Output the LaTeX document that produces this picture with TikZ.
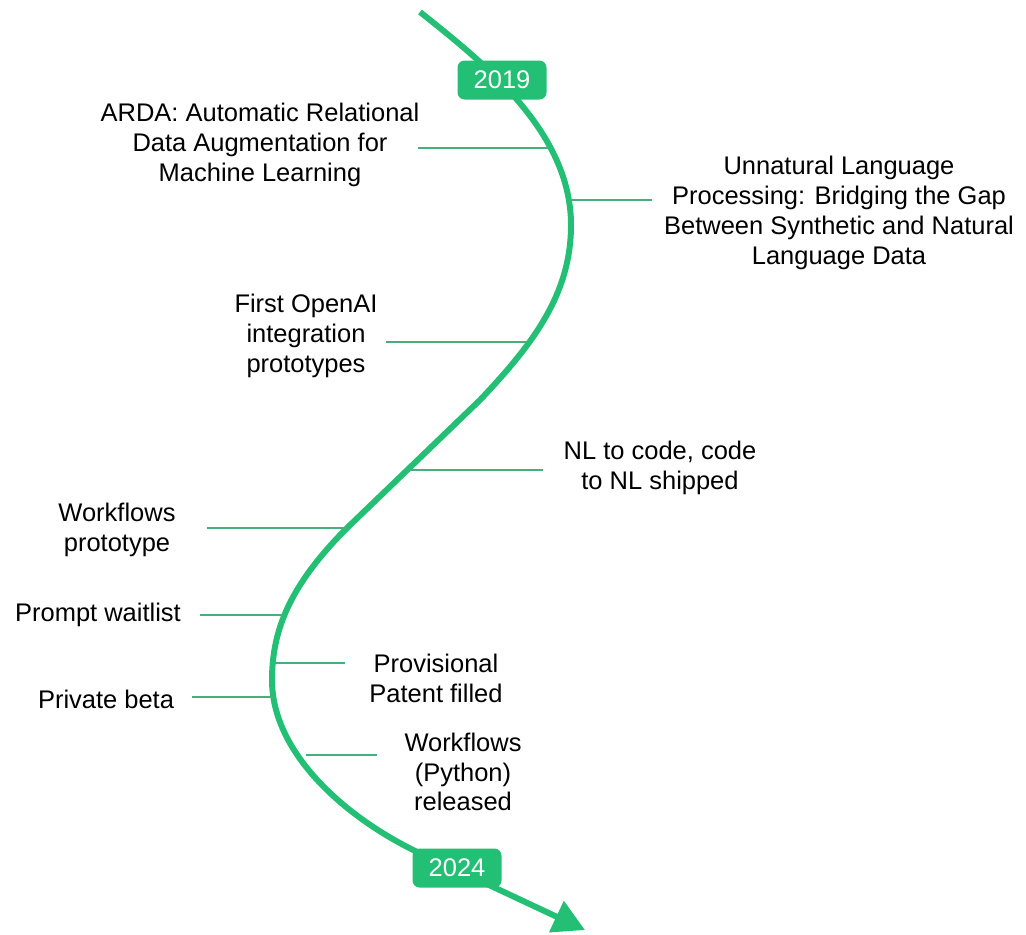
\documentclass[tikz,border=0pt]{standalone}
\usepackage{fontspec}
\setmainfont{Liberation Sans}
\usetikzlibrary{arrows.meta}

\definecolor{roadgreen}{RGB}{34,191,116}
\definecolor{tickgreen}{RGB}{70,176,124}

\begin{document}
\begin{tikzpicture}[x=0.02cm,y=-0.02cm]
\tikzstyle{event}=[align=center, inner sep=0pt,
  font=\fontsize{14.5}{17}\selectfont]
\tikzstyle{year}=[fill=roadgreen, text=white, rounded corners=4pt,
  minimum width=1.78cm, minimum height=0.78cm, inner sep=0pt,
  font=\fontsize{14.5}{17}\selectfont]
\tikzstyle{tick}=[draw=tickgreen, line width=1.3pt]
\useasboundingbox (0,0) rectangle (1026,934);

% the road from 2019 to 2024
\draw[roadgreen, line width=3.4pt, -{Triangle[length=18pt,width=19pt]}]
  (420,12) .. controls (480,60) and (571,130) .. (571,225)
  .. controls (571,295) and (532,345) .. (480,400)
  -- (347,528)
  .. controls (290,585) and (272,630) .. (272,680)
  .. controls (272,760) and (360,830) .. (440,862)
  -- (585,930);

\node[year] (y2019) at (502,80) {2019};
\node[year] (y2024) at (457,868) {2024};

% events
\node[event] (arda) at (260,145)
  {ARDA: Automatic Relational\\Data Augmentation for\\Machine Learning};
\node[event] (unlp) at (839,213)
  {Unnatural Language\\Processing: Bridging the Gap\\Between Synthetic and Natural\\Language Data};
\node[event] (openai) at (306,336) {First OpenAI\\integration\\prototypes};
\node[event] (nlcode) at (660,468) {NL to code, code\\to NL shipped};
\node[event] (wfproto) at (117,530) {Workflows\\prototype};
\node[event] (waitlist) at (98,615) {Prompt waitlist};
\node[event] (patent) at (436,678) {Provisional\\Patent filled};
\node[event] (beta) at (106,699) {Private beta};
\node[event] (wfpy) at (463,772) {Workflows\\(Python)\\released};

% where the ticks meet the road
\coordinate (ardaroad) at (548,148);
\coordinate (unlproad) at (570,200);
\coordinate (openairoad) at (527,342);
\coordinate (nlcoderoad) at (408,470);
\coordinate (wfprotoroad) at (347,528);
\coordinate (waitlistroad) at (284,615);
\coordinate (patentroad) at (273,663);
\coordinate (betaroad) at (273,697);
\coordinate (wfpyroad) at (306,755);

% free ends of the ticks
\coordinate (ardatick) at (418,148);
\coordinate (unlptick) at (652,200);
\coordinate (openaitick) at (386,342);
\coordinate (nlcodetick) at (543,470);
\coordinate (wfprototick) at (207,528);
\coordinate (waitlisttick) at (200,615);
\coordinate (patenttick) at (345,663);
\coordinate (betatick) at (192,697);
\coordinate (wfpytick) at (377,755);

\draw[tick] (ardatick) -- (ardaroad);
\draw[tick] (unlproad) -- (unlptick);
\draw[tick] (openaitick) -- (openairoad);
\draw[tick] (nlcoderoad) -- (nlcodetick);
\draw[tick] (wfprototick) -- (wfprotoroad);
\draw[tick] (waitlisttick) -- (waitlistroad);
\draw[tick] (patentroad) -- (patenttick);
\draw[tick] (betatick) -- (betaroad);
\draw[tick] (wfpyroad) -- (wfpytick);
\end{tikzpicture}
\end{document}
